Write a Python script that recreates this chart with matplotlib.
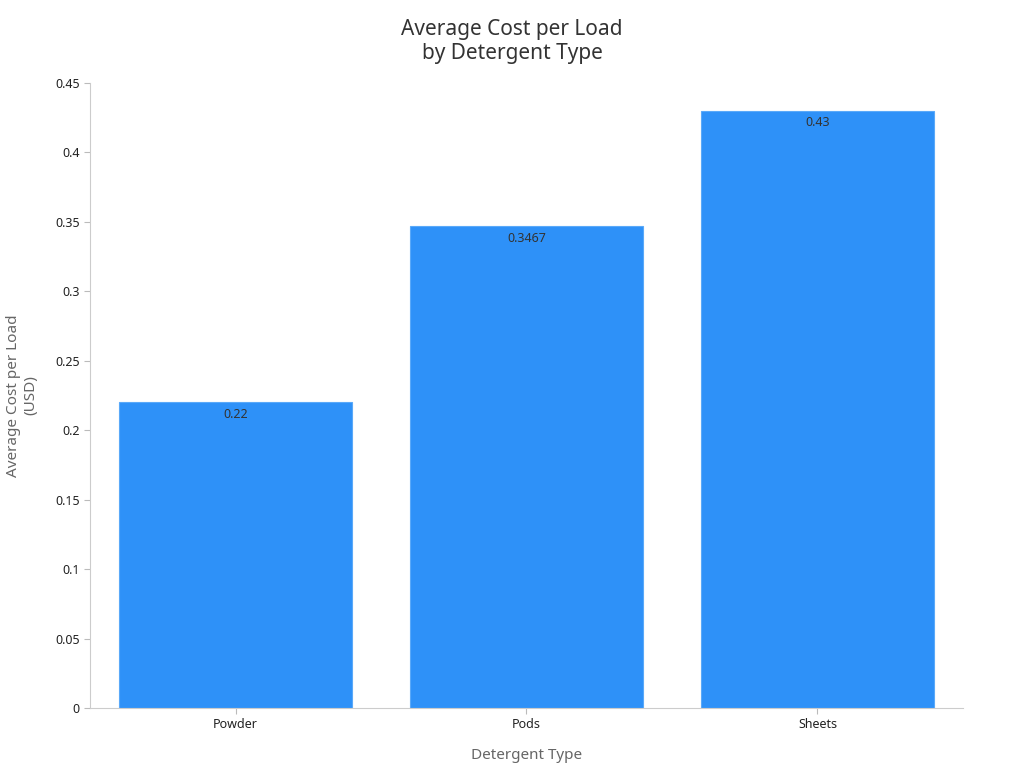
import matplotlib
matplotlib.use("Agg")
import matplotlib.pyplot as plt
from matplotlib.ticker import FuncFormatter

plt.rcParams['font.family'] = ['Noto Sans', 'DejaVu Sans']

categories = ["Powder", "Pods", "Sheets"]
values = [0.22, 0.3467, 0.43]
labels = ["0.22", "0.3467", "0.43"]

fig = plt.figure(figsize=(10.24, 7.68), dpi=100)
ax = fig.add_axes([0.0879, 0.0781, 0.8525, 0.8139])
x = range(len(categories))
bars = ax.bar(x, values, width=0.8, color="#2e91f8", edgecolor="#5aa9f9", linewidth=0.8)
for xi, v, lab in zip(x, values, labels):
    ax.text(xi, v - 0.004, lab, ha="center", va="top", fontsize=9, color="#333333")
ax.set_xlim(-0.5, 2.5)
ax.set_ylim(0, 0.45)
ax.set_xticks(list(x))
ax.set_xticklabels(categories)
ax.set_yticks([i * 0.05 for i in range(10)])
ax.yaxis.set_major_formatter(FuncFormatter(lambda v, p: f"{round(v, 2):g}"))
ax.tick_params(labelsize=9, colors="#222222", length=4)
ax.tick_params(axis="both", color="#bbbbbb")
for s in ["top", "right"]:
    ax.spines[s].set_visible(False)
for s in ["left", "bottom"]:
    ax.spines[s].set_color("#cccccc")
ax.set_xlabel("Detergent Type", fontsize=11, color="#666666", labelpad=12)
ax.set_ylabel("Average Cost per Load\n(USD)", fontsize=11, color="#666666", labelpad=12)
fig.suptitle("Average Cost per Load\nby Detergent Type", fontsize=15, color="#333333", y=0.975)
fig.savefig("out.png", dpi=100)
